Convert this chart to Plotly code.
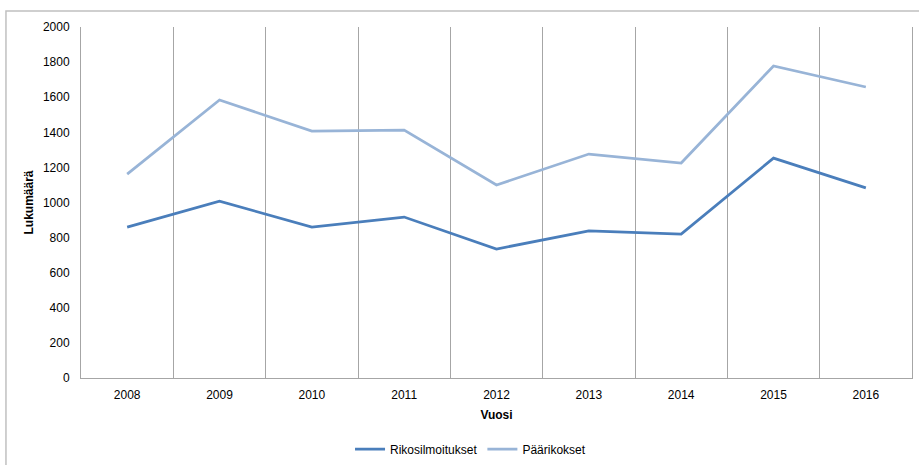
import plotly.graph_objects as go

years = ["2008", "2009", "2010", "2011", "2012", "2013", "2014", "2015", "2016"]
rikosilmoitukset = [860, 1008, 860, 917, 735, 838, 820, 1253, 1083]
paarikokset = [1162, 1584, 1407, 1413, 1100, 1276, 1225, 1778, 1658]
y_ticks = [0, 200, 400, 600, 800, 1000, 1200, 1400, 1600, 1800, 2000]

FONT = "Liberation Sans, Arial, sans-serif"

fig = go.Figure()
fig.add_trace(go.Scatter(x=years, y=rikosilmoitukset, mode="lines", name="Rikosilmoitukset",
                         line=dict(color="#4A7EBB", width=2.75)))
fig.add_trace(go.Scatter(x=years, y=paarikokset, mode="lines", name="Päärikokset",
                         line=dict(color="#98B4D7", width=2.75)))

fig.update_layout(
    width=919, height=465,
    margin=dict(l=81, r=7, t=27, b=87, autoexpand=False),
    paper_bgcolor="white", plot_bgcolor="white",
    font=dict(family=FONT, size=12, color="black"),
    showlegend=True,
    legend=dict(orientation="h", xref="container", yref="container",
                x=0.512, xanchor="center", y=0.034, yanchor="middle",
                font=dict(size=12), itemwidth=30),
    xaxis=dict(type="category", tickson="boundaries", showgrid=True,
               range=[-0.5, len(years) - 0.5], automargin=False,
               gridcolor="#A6A6A6", gridwidth=1,
               showline=True, linecolor="#A6A6A6", linewidth=1,
               ticks="", ticklabelstandoff=6,
               title=dict(text="<b>Vuosi</b>", font=dict(size=12), standoff=9)),
    yaxis=dict(range=[0, 2000], tickvals=y_ticks, showgrid=False, zeroline=False,
               automargin=False,
               showline=True, linecolor="#A6A6A6", linewidth=1, mirror=True,
               ticks="", ticklabelstandoff=8,
               title=dict(text="<b>Lukumäärä</b>", font=dict(size=12), standoff=6)),
    shapes=[dict(type="rect", xref="paper", yref="paper",
                 x0=-0.0903, x1=1.03, y0=-0.4, y1=1.0456,
                 line=dict(color="#C0C0C0", width=1.5), fillcolor="rgba(0,0,0,0)",
                 layer="below")],
)

fig.write_html("out.html", config={"displayModeBar": False},
               post_script="document.body.style.margin='0';")
